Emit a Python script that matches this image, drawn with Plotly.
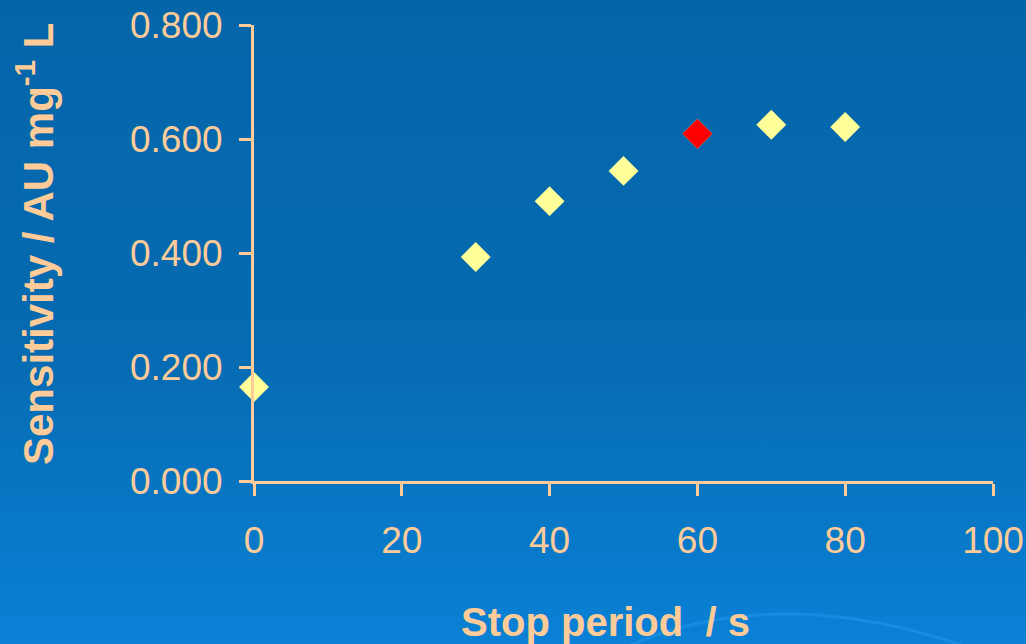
import base64
import plotly.graph_objects as go

# Data
stop_period = [0, 30, 40, 50, 60, 70, 80]
sensitivity = [0.165, 0.393, 0.491, 0.544, 0.609, 0.625, 0.621]
highlight_period = [60]
highlight_sens = [0.609]
x_ticks = [0, 20, 40, 60, 80, 100]
y_ticks = [0.0, 0.2, 0.4, 0.6, 0.8]
y_tick_labels = ["0.000", "0.200", "0.400", "0.600", "0.800"]

W, H = 1026, 644
L, R, T, B = 254, 33, 25, 163
pw, ph = W - L - R, H - T - B

peach = "#FFCC99"

svg = f'''<svg xmlns="http://www.w3.org/2000/svg" width="{W}" height="{H}" viewBox="0 0 {W} {H}" preserveAspectRatio="none">
<defs><linearGradient id="g" x1="0" y1="0" x2="0" y2="1">
<stop offset="0" stop-color="#0565a9"/>
<stop offset="0.55" stop-color="#066bb2"/>
<stop offset="1" stop-color="#0a81d6"/>
</linearGradient></defs>
<rect x="0" y="0" width="{W}" height="{H}" fill="url(#g)"/>
<path d="M 620 650 Q 700 612 800 614 Q 900 618 1000 660" fill="none" stroke="#1a8fe6" stroke-width="3" opacity="0.8"/>
</svg>'''
src = "data:image/svg+xml;base64," + base64.b64encode(svg.encode()).decode()

fig = go.Figure()
fig.add_trace(go.Scatter(
    x=stop_period, y=sensitivity, mode="markers", cliponaxis=False,
    marker=dict(symbol="diamond", size=23, color="#FFFF99", line=dict(width=0)),
    showlegend=False, hoverinfo="skip"))
fig.add_trace(go.Scatter(
    x=highlight_period, y=highlight_sens, mode="markers", cliponaxis=False,
    marker=dict(symbol="diamond", size=23, color="#FF0000", line=dict(width=0)),
    showlegend=False, hoverinfo="skip"))

tick_font = dict(family="Liberation Sans, Arial, sans-serif", size=37, color=peach)
title_font = dict(family="Liberation Sans, Arial, sans-serif", size=40, color=peach)
ytitle_font = dict(family="Liberation Sans, Arial, sans-serif", size=42, color=peach)

fig.update_layout(
    width=W, height=H,
    margin=dict(l=L, r=R, t=T, b=B, pad=0, autoexpand=False),
    paper_bgcolor="#0870b8",
    plot_bgcolor="rgba(0,0,0,0)",
    images=[dict(source=src, xref="paper", yref="paper",
                 x=-L / pw, y=1 + T / ph, sizex=W / pw, sizey=H / ph,
                 xanchor="left", yanchor="top", sizing="stretch", layer="below")],
    xaxis=dict(range=[0, 100], tickvals=x_ticks, ticks="outside", ticklen=12,
               tickwidth=3, tickcolor=peach, showline=True, linewidth=3,
               linecolor=peach, showgrid=False, zeroline=False, automargin=False,
               tickfont=tick_font, ticklabelstandoff=13),
    yaxis=dict(range=[0, 0.8], tickvals=y_ticks, ticktext=y_tick_labels,
               ticks="outside", ticklen=12, tickwidth=3, tickcolor=peach,
               showline=True, linewidth=3, linecolor=peach, showgrid=False,
               zeroline=False, automargin=False, tickfont=tick_font,
               ticklabelstandoff=9),
    annotations=[
        dict(text="<b>Stop period  / s</b>", xref="paper", yref="paper",
             x=(605 - L) / pw, y=-(622 - (H - B)) / ph, xanchor="center",
             yanchor="middle", showarrow=False, font=title_font),
        dict(text="<b>Sensitivity / AU mg<sup>-1</sup> L</b>", xref="paper",
             yref="paper", x=-(L - 35) / pw, y=(H - B - 244) / ph,
             xanchor="center", yanchor="middle", textangle=-90,
             showarrow=False, font=ytitle_font),
    ],
)

fig.write_html("out.html", config={"displayModeBar": False},
               post_script="document.body.style.margin='0';document.body.style.overflow='hidden';")
